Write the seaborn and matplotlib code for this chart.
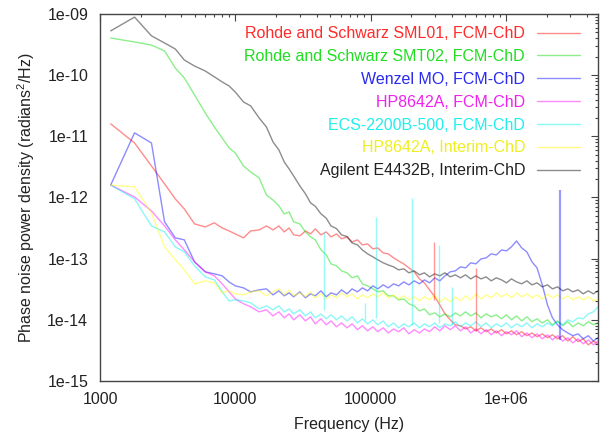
import matplotlib
matplotlib.use("Agg")
import matplotlib.pyplot as plt
import seaborn as sns
from matplotlib.ticker import FixedLocator, FixedFormatter, LogLocator, NullFormatter

# ---------------- data ----------------
freq_hz = [1200, 1800, 2400, 3000, 3600, 4200, 5000, 6000, 7000, 8000,
           9000, 10000, 11500, 13000, 15000, 17000, 19000, 21000, 23000, 25000,
           27000, 30000, 33000, 36000, 39000, 43000, 47000, 51000, 56000, 61000,
           67000, 73000, 80000, 87000, 95000, 104000, 113000, 124000, 135000, 148000,
           161000, 176000, 192000, 210000, 230000, 250000, 273000, 298000, 325000, 355000,
           388000, 423000, 462000, 504000, 550000, 600000, 655000, 715000, 780000, 850000,
           930000, 1010000, 1100000, 1200000, 1310000, 1430000, 1560000, 1700000, 1860000, 2030000,
           2210000, 2410000, 2630000, 2870000, 3130000, 3420000, 3730000, 4070000, 4440000, 4800000]

sml01_fcm = [1.6e-11, 7.8e-12, 3.28e-12, 1.67e-12, 9.5e-13, 6.5e-13, 3.7e-13, 3.3e-13, 3.85e-13, 3.18e-13,
             2.84e-13, 2.54e-13, 2.19e-13, 2.84e-13, 2.95e-13, 3.43e-13, 2.95e-13, 3.43e-13, 2.74e-13, 3.18e-13,
             2.45e-13, 2.36e-13, 2.84e-13, 2.54e-13, 3.07e-13, 2.45e-13, 2.74e-13, 2.27e-13, 2.54e-13, 2.11e-13,
             2.27e-13, 1.88e-13, 2.03e-13, 1.68e-13, 1.74e-13, 1.45e-13, 1.50e-13, 1.24e-13, 1.20e-13, 1.03e-13,
             9.2e-14, 8.2e-14, 7.07e-14, 6.09e-14, 4.67e-14, 4.02e-14, 3.09e-14, 2.38e-14, 1.76e-14, 1.25e-14,
             1.0e-14, 8.3e-15, 8.0e-15, 7.1e-15, 7.7e-15, 6.6e-15, 7.4e-15, 6.4e-15, 7.1e-15, 6.1e-15,
             6.9e-15, 5.9e-15, 6.6e-15, 5.7e-15, 6.4e-15, 5.5e-15, 6.1e-15, 5.3e-15, 5.9e-15, 5.1e-15,
             5.7e-15, 4.9e-15, 5.5e-15, 4.5e-15, 5.3e-15, 4.4e-15, 4.9e-15, 3.9e-15, 4.5e-15, 4.05e-15]

smt02_fcm = [4.05e-10, 3.49e-10, 3.11e-10, 2.49e-10, 1.31e-10, 9.0e-11, 4.75e-11, 2.41e-11, 1.42e-11, 9.4e-12,
             6.46e-12, 5.35e-12, 3.28e-12, 2.62e-12, 2.09e-12, 1.10e-12, 9.1e-13, 7.3e-13, 5.4e-13, 5.8e-13,
             4.0e-13, 3.7e-13, 2.74e-13, 2.27e-13, 2.03e-13, 1.39e-13, 1.15e-13, 8.22e-14, 7.63e-14, 6.32e-14,
             5.87e-14, 4.86e-14, 5.24e-14, 3.88e-14, 3.59e-14, 3.21e-14, 2.87e-14, 2.98e-14, 2.47e-14, 2.47e-14,
             2.12e-14, 2.20e-14, 1.83e-14, 1.69e-14, 1.40e-14, 1.51e-14, 1.21e-14, 1.30e-14, 1.12e-14, 1.25e-14,
             1.12e-14, 1.30e-14, 1.16e-14, 1.35e-14, 1.16e-14, 1.30e-14, 1.08e-14, 1.25e-14, 1.12e-14, 1.21e-14,
             1.04e-14, 1.21e-14, 1.0e-14, 1.16e-14, 9.6e-15, 1.12e-14, 9.3e-15, 1.04e-14, 8.9e-15, 1.0e-14,
             8.3e-15, 9.6e-15, 8.0e-15, 9.3e-15, 7.7e-15, 8.9e-15, 8.0e-15, 9.3e-15, 8.3e-15, 8.9e-15]

wenzel_fcm = [1.6e-12, 1.14e-11, 7.8e-12, 4.0e-13, 2.19e-13, 2.03e-13, 8.87e-14, 6.09e-14, 5.65e-14, 5.24e-14,
              4.17e-14, 3.59e-14, 3.33e-14, 2.87e-14, 3.09e-14, 3.21e-14, 2.56e-14, 2.98e-14, 2.47e-14, 2.76e-14,
              2.38e-14, 2.87e-14, 2.29e-14, 2.66e-14, 2.47e-14, 2.98e-14, 2.38e-14, 2.76e-14, 2.56e-14, 3.09e-14,
              2.66e-14, 3.21e-14, 2.87e-14, 3.33e-14, 2.98e-14, 3.59e-14, 3.21e-14, 3.73e-14, 3.33e-14, 3.88e-14,
              3.59e-14, 4.17e-14, 3.73e-14, 4.34e-14, 3.88e-14, 4.5e-14, 4.02e-14, 4.86e-14, 4.34e-14, 5.24e-14,
              6.09e-14, 6.32e-14, 7.35e-14, 7.07e-14, 8.55e-14, 8.22e-14, 9.9e-14, 1.03e-13, 1.20e-13, 1.15e-13,
              1.39e-13, 1.34e-13, 1.56e-13, 1.95e-13, 1.50e-13, 1.29e-13, 8.87e-14, 7.07e-14, 3.73e-14, 1.76e-14,
              1.08e-14, 8.3e-15, 6.9e-15, 6.1e-15, 5.5e-15, 5.9e-15, 4.9e-15, 5.5e-15, 4.5e-15, 5.1e-15]

hp8642a_fcm = [1.6e-12, 1.02e-12, 6.04e-13, 3.43e-13, 2.03e-13, 1.39e-13, 8.87e-14, 6.09e-14, 5.24e-14, 3.88e-14,
               2.87e-14, 2.20e-14, 1.83e-14, 1.63e-14, 1.35e-14, 1.46e-14, 1.16e-14, 1.35e-14, 1.08e-14, 1.25e-14,
               1.0e-14, 1.21e-14, 9.6e-15, 1.12e-14, 8.6e-15, 1.04e-14, 8.3e-15, 9.6e-15, 7.7e-15, 8.9e-15,
               7.4e-15, 8.6e-15, 6.9e-15, 8.0e-15, 6.6e-15, 7.7e-15, 6.4e-15, 7.4e-15, 6.1e-15, 7.1e-15,
               6.4e-15, 7.4e-15, 5.9e-15, 6.9e-15, 6.1e-15, 7.1e-15, 6.4e-15, 7.7e-15, 6.6e-15, 8.0e-15,
               6.9e-15, 8.0e-15, 6.6e-15, 7.7e-15, 6.1e-15, 7.1e-15, 5.9e-15, 6.9e-15, 5.7e-15, 6.6e-15,
               5.5e-15, 6.4e-15, 5.7e-15, 6.6e-15, 5.3e-15, 6.1e-15, 5.1e-15, 5.9e-15, 4.9e-15, 5.7e-15,
               4.7e-15, 5.5e-15, 4.5e-15, 5.1e-15, 4.2e-15, 4.9e-15, 4.05e-15, 4.7e-15, 3.9e-15, 4.5e-15]

ecs2200b_fcm = [1.6e-12, 9.5e-13, 3.43e-13, 2.74e-13, 1.56e-13, 1.29e-13, 7.63e-14, 5.04e-14, 4.5e-14, 2.87e-14,
                2.04e-14, 2.12e-14, 2.04e-14, 1.90e-14, 1.51e-14, 1.69e-14, 1.46e-14, 1.69e-14, 1.35e-14, 1.51e-14,
                1.25e-14, 1.46e-14, 1.16e-14, 1.35e-14, 1.08e-14, 1.25e-14, 1.04e-14, 1.21e-14, 1.0e-14, 1.16e-14,
                9.6e-15, 1.12e-14, 8.9e-15, 1.04e-14, 8.6e-15, 1.0e-14, 8.3e-15, 9.6e-15, 7.7e-15, 8.9e-15,
                7.4e-15, 8.6e-15, 7.7e-15, 8.9e-15, 7.4e-15, 8.6e-15, 7.7e-15, 8.9e-15, 7.4e-15, 8.6e-15,
                8.0e-15, 9.3e-15, 7.7e-15, 8.9e-15, 8.0e-15, 9.3e-15, 7.7e-15, 8.9e-15, 7.4e-15, 8.6e-15,
                7.7e-15, 8.9e-15, 7.4e-15, 8.6e-15, 7.7e-15, 8.9e-15, 7.4e-15, 8.6e-15, 7.7e-15, 8.9e-15,
                8.0e-15, 9.3e-15, 8.3e-15, 1.0e-14, 9.3e-15, 1.08e-14, 1.04e-14, 1.25e-14, 1.35e-14, 1.63e-14]

hp8642a_interim = [1.6e-12, 1.49e-12, 5.6e-13, 1.56e-13, 9.6e-14, 6.56e-14, 3.88e-14, 4.34e-14, 4.02e-14, 2.76e-14,
                   2.98e-14, 2.66e-14, 2.56e-14, 2.87e-14, 2.98e-14, 2.47e-14, 2.87e-14, 3.21e-14, 2.56e-14, 3.09e-14,
                   2.47e-14, 2.76e-14, 2.38e-14, 2.87e-14, 2.29e-14, 2.66e-14, 2.20e-14, 2.56e-14, 2.29e-14, 2.76e-14,
                   2.38e-14, 2.66e-14, 2.20e-14, 2.56e-14, 2.29e-14, 2.66e-14, 2.38e-14, 2.76e-14, 2.29e-14, 2.56e-14,
                   2.20e-14, 2.47e-14, 2.12e-14, 2.38e-14, 2.04e-14, 2.38e-14, 2.12e-14, 2.56e-14, 1.97e-14, 2.29e-14,
                   1.97e-14, 2.38e-14, 2.04e-14, 2.47e-14, 2.12e-14, 2.66e-14, 2.20e-14, 2.56e-14, 2.29e-14, 2.76e-14,
                   2.38e-14, 2.66e-14, 2.29e-14, 2.76e-14, 2.38e-14, 2.66e-14, 2.29e-14, 2.56e-14, 2.20e-14, 2.66e-14,
                   2.29e-14, 2.56e-14, 2.20e-14, 2.47e-14, 2.12e-14, 2.38e-14, 2.12e-14, 2.38e-14, 2.04e-14, 2.20e-14]

agilent_interim = [5.3e-10, 8.9e-10, 4.4e-10, 3.36e-10, 2.68e-10, 1.77e-10, 1.41e-10, 1.17e-10, 9.4e-11, 7.75e-11,
                   6.66e-11, 5.3e-11, 3.65e-11, 3.14e-11, 2.0e-11, 1.42e-11, 8.1e-12, 6.0e-12, 3.82e-12, 2.93e-12,
                   2.25e-12, 1.55e-12, 1.15e-12, 8.17e-13, 7.2e-13, 5.4e-13, 4.6e-13, 3.43e-13, 3.1e-13, 2.45e-13,
                   2.3e-13, 1.81e-13, 1.68e-13, 1.39e-13, 1.2e-13, 1.07e-13, 9.6e-14, 8.55e-14, 7.9e-14, 7.35e-14,
                   6.56e-14, 6.82e-14, 5.87e-14, 6.32e-14, 5.44e-14, 5.87e-14, 5.04e-14, 5.65e-14, 5.24e-14, 5.87e-14,
                   5.04e-14, 5.44e-14, 4.86e-14, 5.44e-14, 4.67e-14, 5.24e-14, 4.67e-14, 5.04e-14, 4.34e-14, 4.86e-14,
                   4.5e-14, 4.02e-14, 4.67e-14, 4.17e-14, 3.88e-14, 4.34e-14, 3.73e-14, 4.02e-14, 3.46e-14, 3.73e-14,
                   3.21e-14, 3.46e-14, 2.98e-14, 3.21e-14, 2.87e-14, 3.09e-14, 2.66e-14, 2.98e-14, 2.66e-14, 2.98e-14]

series_labels = ["Rohde and Schwarz SML01, FCM-ChD",
                 "Rohde and Schwarz SMT02, FCM-ChD",
                 "Wenzel MO, FCM-ChD",
                 "HP8642A, FCM-ChD",
                 "ECS-2200B-500, FCM-ChD",
                 "HP8642A, Interim-ChD",
                 "Agilent E4432B, Interim-ChD"]
series_values = [sml01_fcm, smt02_fcm, wenzel_fcm, hp8642a_fcm, ecs2200b_fcm, hp8642a_interim, agilent_interim]

# narrow spurs (vertical spikes)
spike_hz = [45000, 91000, 110000, 202000, 320000, 399000, 295000, 601000, 2500000]
spike_top = [2.74e-13, 1.9e-14, 4.8e-13, 9.9e-13, 1.68e-13, 3.46e-14, 1.88e-13, 7.07e-14, 1.33e-12]
spike_base = [1.46e-14, 1.0e-14, 1.08e-14, 8.3e-15, 8.9e-15, 8.3e-15, 2.12e-14, 6.6e-15, 4.7e-15]
spike_series = [4, 4, 4, 4, 4, 4, 0, 0, 2]

xtick_values = [1e3, 1e4, 1e5, 1e6]
xtick_labels = ["1000", "10000", "100000", "1e+06"]
ytick_values = [1e-15, 1e-14, 1e-13, 1e-12, 1e-11, 1e-10, 1e-9]
ytick_labels = ["1e-15", "1e-14", "1e-13", "1e-12", "1e-11", "1e-10", "1e-09"]

# ---------------- style ----------------
line_colors = ["#ff0000", "#00dd00", "#0000ff", "#ff00ff", "#00eeee", "#ffff00", "#000000"]
text_colors = ["#ff2a2a", "#22dd22", "#2a2aee", "#ee22ee", "#22eeee", "#eeee22", "#222222"]

sns.set_theme(style="white")
plt.rcParams["font.family"] = ["Liberation Sans", "DejaVu Sans"]
plt.rcParams["mathtext.default"] = "regular"
FS = 11.5

fig = plt.figure(figsize=(6.02, 4.32), dpi=100)
ax = fig.add_axes([100 / 602, 1 - 381 / 432, 498 / 602, 367 / 432])

for lab, vals, col in zip(series_labels, series_values, line_colors):
    sns.lineplot(x=freq_hz, y=vals, color=col, alpha=0.45, linewidth=1.0,
                 ax=ax, label=lab, estimator=None, sort=False)

for hz, top, base, s in zip(spike_hz, spike_top, spike_base, spike_series):
    ax.vlines(hz, base, top, colors=line_colors[s], alpha=0.4,
              linewidth=1.6 if s == 2 else 1.0)

ax.set_xscale("log")
ax.set_yscale("log")
ax.set_xlim(1000, 4.8e6)
ax.set_ylim(1e-15, 1e-9)

ax.xaxis.set_major_locator(FixedLocator(xtick_values))
ax.xaxis.set_major_formatter(FixedFormatter(xtick_labels))
ax.yaxis.set_major_locator(FixedLocator(ytick_values))
ax.yaxis.set_major_formatter(FixedFormatter(ytick_labels))
ax.xaxis.set_minor_locator(LogLocator(base=10, subs=range(2, 10)))
ax.yaxis.set_minor_locator(LogLocator(base=10, subs=range(2, 10)))
ax.xaxis.set_minor_formatter(NullFormatter())
ax.yaxis.set_minor_formatter(NullFormatter())

ax.tick_params(which="both", direction="in", top=True, right=True,
               color="#444444", width=0.8)
ax.tick_params(which="major", length=5)
ax.tick_params(which="minor", length=2.5)
ax.tick_params(axis="y", which="major", pad=8.5, labelsize=FS, labelcolor="#222222")
ax.tick_params(axis="x", which="major", pad=8, labelsize=FS, labelcolor="#222222")

for sp in ax.spines.values():
    sp.set_color("#444444")
    sp.set_linewidth(1.0)

ax.set_xlabel("Frequency (Hz)", fontsize=FS, color="#222222", labelpad=7)
ax.set_ylabel("Phase noise power density (radians$^2$/Hz)", fontsize=FS,
              color="#222222", labelpad=7)

leg = ax.legend(loc="upper right", bbox_to_anchor=(0.977, 0.984), borderaxespad=0,
                markerfirst=False, frameon=False, handlelength=2.7,
                handletextpad=0.75, labelspacing=0.49, fontsize=FS,
                labelcolor=text_colors)

fig.savefig("out.png", dpi=100)
